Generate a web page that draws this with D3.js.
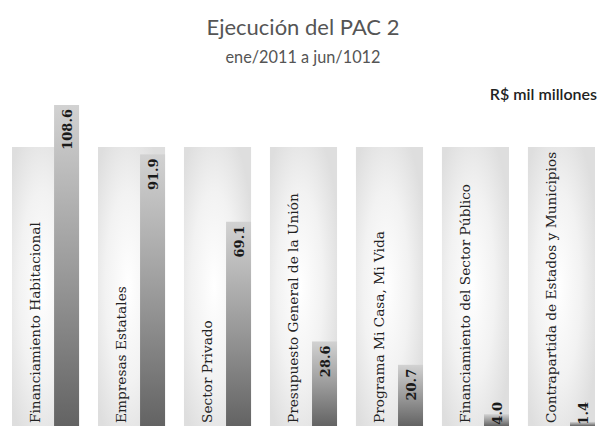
<!DOCTYPE html>
<html lang="es">
<head>
<meta charset="UTF-8" />
<title>Ejecución del PAC 2</title>
<script src="https://d3js.org/d3.v7.min.js"></script>
<style>
  html, body { margin: 0; padding: 0; background: #fff; }
  #chart svg { display: block; }
</style>
</head>
<body>
<div id="chart"></div>
<script>
// Datos (R$ mil millones)
const categorias = [
  "Financiamiento Habitacional",
  "Empresas Estatales",
  "Sector Privado",
  "Presupuesto General de la Unión",
  "Programa Mi Casa, Mi Vida",
  "Financiamiento del Sector Público",
  "Contrapartida de Estados y Municipios"
];
const valores = [108.6, 91.9, 69.1, 28.6, 20.7, 4.0, 1.4];
const etiquetas = ["108.6", "91.9", "69.1", "28.6", "20.7", "4.0", "1.4"];

const W = 599, H = 426;
const base = 426, panelTop = 147;

const svg = d3.select("#chart").append("svg")
  .attr("width", W)
  .attr("height", H);

const defs = svg.append("defs");

// fondo de cada columna: brillo en el centro
const rg = defs.append("radialGradient")
  .attr("id", "panelGrad")
  .attr("cx", 0.45).attr("cy", 0.5).attr("r", 0.62);
rg.append("stop").attr("offset", "0%").attr("stop-color", "#ffffff");
rg.append("stop").attr("offset", "55%").attr("stop-color", "#f2f2f2");
rg.append("stop").attr("offset", "100%").attr("stop-color", "#dedede");

// barras: claro arriba, oscuro abajo
const bg = defs.append("linearGradient")
  .attr("id", "barGrad")
  .attr("x1", 0).attr("y1", 0).attr("x2", 0).attr("y2", 1);
bg.append("stop").attr("offset", "0%").attr("stop-color", "#d2d2d2");
bg.append("stop").attr("offset", "50%").attr("stop-color", "#9c9c9c");
bg.append("stop").attr("offset", "100%").attr("stop-color", "#636363");

const x = d3.scaleBand()
  .domain(categorias)
  .range([12, 595])
  .paddingInner(0.22)
  .paddingOuter(0);

const y = d3.scaleLinear()
  .domain([0, d3.max(valores)])
  .range([base, 105]);

const barW = 25;
const datos = categorias.map((c, i) => ({ cat: c, v: valores[i], lab: etiquetas[i] }));

const g = svg.append("g");

// paneles
g.selectAll("rect.panel")
  .data(datos)
  .enter()
  .append("rect")
  .attr("class", "panel")
  .attr("x", d => x(d.cat))
  .attr("y", panelTop)
  .attr("width", x.bandwidth())
  .attr("height", base - panelTop)
  .attr("fill", "url(#panelGrad)");

// barras
g.selectAll("rect.bar")
  .data(datos)
  .enter()
  .append("rect")
  .attr("class", "bar")
  .attr("x", d => x(d.cat) + x.bandwidth() - barW)
  .attr("y", d => y(d.v))
  .attr("width", barW)
  .attr("height", d => base - y(d.v))
  .attr("fill", "url(#barGrad)");

// nombres de categoría (vertical)
g.selectAll("text.cat")
  .data(datos)
  .enter()
  .append("text")
  .attr("class", "cat")
  .attr("transform", d => `translate(${x(d.cat) + 28},${base - 3}) rotate(-90)`)
  .attr("text-anchor", "start")
  .style("font-family", "'DejaVu Serif', serif")
  .style("font-size", "13.7px")
  .style("fill", "#222")
  .text(d => d.cat);

function anchoEtiqueta(s) {
  // ancho aproximado de la etiqueta en px
  return s.replace(".", "").length * 8.5 + 4;
}

// valores
g.selectAll("text.val")
  .data(datos)
  .enter()
  .append("text")
  .attr("class", "val")
  .attr("transform", d => {
    const cx = x(d.cat) + x.bandwidth() - barW / 2 + 5;
    const top = y(d.v);
    const yy = (base - top) > 50
      ? top + 4
      : Math.min(top - 8, base - 3 - anchoEtiqueta(d.lab));
    return `translate(${cx},${yy}) rotate(-90)`;
  })
  .attr("text-anchor", "end")
  .style("font-family", "'DejaVu Serif', serif")
  .style("font-weight", "bold")
  .style("font-size", "13px")
  .style("fill", "#1a1a1a")
  .text(d => d.lab);

// títulos
svg.append("text")
  .attr("x", 303).attr("y", 35)
  .attr("text-anchor", "middle")
  .style("font-family", "Lato, sans-serif")
  .style("font-size", "22px")
  .style("fill", "#555")
  .text("Ejecución del PAC 2");

svg.append("text")
  .attr("x", 303).attr("y", 63)
  .attr("text-anchor", "middle")
  .style("font-family", "Lato, sans-serif")
  .style("font-size", "16.3px")
  .style("fill", "#555")
  .text("ene/2011 a jun/1012");

svg.append("text")
  .attr("x", 597).attr("y", 100)
  .attr("text-anchor", "end")
  .style("font-family", "Lato, sans-serif")
  .style("font-size", "16px")
  .style("font-weight", "600")
  .style("fill", "#222")
  .text("R$ mil millones");
</script>
</body>
</html>
